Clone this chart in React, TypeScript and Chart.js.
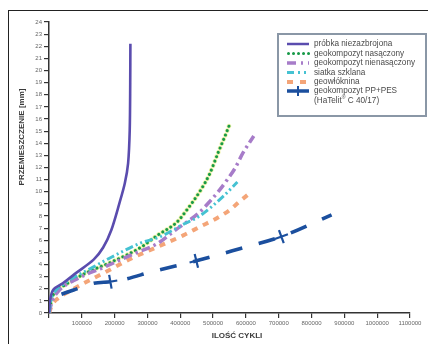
import { useEffect, useRef } from 'react';
import { Chart, registerables } from 'chart.js';
Chart.register(...registerables);

// ---- data ----
const probkaX = [0, 4000, 14000, 42000, 85000, 136000, 165000, 190000, 214000, 231000, 241000, 246000, 247500, 248000];
const probkaY = [0, 1.2, 1.95, 2.45, 3.35, 4.4, 5.4, 6.85, 9.0, 10.7, 12.35, 15.1, 19, 22.2];

const nasX = [0, 8000, 17000, 48000, 109000, 190000, 282000, 330000, 390000, 420000, 459000, 490000, 515000, 541000, 551000];
const nasY = [0, 1.1, 1.7, 2.3, 3.25, 4.2, 5.45, 6.4, 7.5, 8.5, 10.0, 11.5, 13.2, 14.9, 15.6];

const nienasX = [0, 10000, 27000, 88000, 170000, 251000, 332000, 383000, 454000, 490000, 520000, 546000, 566000, 591000, 624000];
const nienasY = [0, 1.0, 1.75, 2.85, 3.8, 4.8, 5.75, 6.8, 8.2, 9.2, 10.15, 11.1, 11.9, 13.2, 14.6];

const siatkaX = [0, 5000, 12000, 48000, 129000, 190000, 282000, 340000, 408000, 459000, 530000, 574000];
const siatkaY = [0, 0.9, 1.5, 2.45, 3.7, 4.6, 5.8, 6.3, 7.3, 8.0, 9.6, 10.8];

const geowX = [0, 10000, 27000, 60000, 106000, 167000, 251000, 322000, 409000, 459000, 510000, 551000, 581000, 617000];
const geowY = [0, 0.7, 1.2, 1.76, 2.45, 3.3, 4.5, 5.35, 6.4, 7.1, 7.8, 8.5, 9.2, 10.0];

const ppX = [38000, 75000, 136000, 187000, 218000, 320000, 449000, 581000, 708000, 861000];
const ppY = [1.55, 1.9, 2.45, 2.58, 2.7, 3.45, 4.3, 5.3, 6.3, 8.1];

const ppMarkX = [187000, 449000, 708000];
const ppMarkY = [2.58, 4.3, 6.3];

const legendLabels = [
  'próbka niezazbrojona',
  'geokompozyt nasączony',
  'geokompozyt nienasączony',
  'siatka szklana',
  'geowłóknina',
  'geokompozyt PP+PES',
];
const legendExtraA = '(HaTelit';
const legendExtraSup = '®';
const legendExtraB = ' C 40/17)';

const xAxisTitle = 'ILOŚĆ CYKLI';
const yAxisTitle = 'PRZEMIESZCZENIE [mm]';

const xMax = 1100000;
const xStep = 100000;
const yMax = 24;
const yStep = 1;

const pts = (xs: number[], ys: number[]) => xs.map((x, i) => ({ x, y: ys[i] }));

const FONT = '"Liberation Sans", Arial, sans-serif';

const C_PURPLE = '#5a4cae';
const C_GREEN = '#179a48';
const C_LAV = '#a77cc9';
const C_CYAN = '#45c2d2';
const C_ORANGE = '#f4a578';
const C_BLUE = '#1b4f9e';

const overlay = {
  id: 'overlay',
  afterDraw(chart: any) {
    const ctx = chart.ctx as CanvasRenderingContext2D;
    ctx.save();
    // axis titles
    ctx.fillStyle = '#3a3a3a';
    ctx.font = `bold 8px ${FONT}`;
    ctx.textAlign = 'center';
    ctx.textBaseline = 'middle';
    ctx.fillText(xAxisTitle, 237, 336);
    ctx.save();
    ctx.translate(22, 137);
    ctx.rotate(-Math.PI / 2);
    ctx.fillText(yAxisTitle, 0, 0);
    ctx.restore();

    // legend box
    const bx = 278, by = 34, bw = 148, bh = 82;
    ctx.fillStyle = '#ffffff';
    ctx.fillRect(bx, by, bw, bh);
    ctx.strokeStyle = '#8a97a6';
    ctx.lineWidth = 2;
    ctx.setLineDash([]);
    ctx.strokeRect(bx, by, bw, bh);

    const rows = [44, 53.5, 63, 72.5, 82, 91];
    const styles = [
      { c: C_PURPLE, w: 2.5, d: [] as number[], cap: 'butt' },
      { c: C_GREEN, w: 3, d: [0.01, 5], cap: 'round' },
      { c: C_LAV, w: 3.5, d: [9, 5, 2, 5], cap: 'butt' },
      { c: C_CYAN, w: 3, d: [7, 4, 2, 4, 2, 4], cap: 'butt' },
      { c: C_ORANGE, w: 4, d: [6, 7], cap: 'butt' },
      { c: C_BLUE, w: 3.5, d: [] as number[], cap: 'butt' },
    ];
    const sx0 = 287, sx1 = 309;
    styles.forEach((s, i) => {
      ctx.strokeStyle = s.c;
      ctx.lineWidth = s.w;
      ctx.setLineDash(s.d);
      ctx.lineCap = s.cap as CanvasLineCap;
      ctx.beginPath();
      ctx.moveTo(sx0 + (s.cap === 'round' ? 1.5 : 0), rows[i]);
      ctx.lineTo(sx1, rows[i]);
      ctx.stroke();
    });
    // cross on blue sample
    ctx.setLineDash([]);
    ctx.lineCap = 'butt';
    ctx.strokeStyle = C_BLUE;
    ctx.lineWidth = 2;
    ctx.beginPath();
    ctx.moveTo(298, rows[5] - 5);
    ctx.lineTo(298, rows[5] + 5);
    ctx.stroke();

    ctx.fillStyle = '#4a4a4a';
    ctx.font = `8.2px ${FONT}`;
    ctx.textAlign = 'left';
    ctx.textBaseline = 'middle';
    legendLabels.forEach((t, i) => ctx.fillText(t, 314, rows[i]));
    const ry = 100.5;
    ctx.fillText(legendExtraA, 314, ry);
    const wA = ctx.measureText(legendExtraA).width;
    ctx.font = `5px ${FONT}`;
    ctx.fillText(legendExtraSup, 314 + wA, ry - 3);
    const wS = ctx.measureText(legendExtraSup).width;
    ctx.font = `8.2px ${FONT}`;
    ctx.fillText(legendExtraB, 314 + wA + wS, ry);
    ctx.restore();
  },
};

export default function App() {
  const ref = useRef<HTMLCanvasElement | null>(null);
  useEffect(() => {
    if (!ref.current) return;
    const axisGrid = {
      drawOnChartArea: false,
      drawTicks: true,
      tickLength: 5,
      color: '#333',
      lineWidth: 1.2,
    };
    const chart = new Chart(ref.current, {
      type: 'line',
      data: {
        datasets: [
          {
            label: 'marks',
            data: pts(ppMarkX, ppMarkY),
            showLine: false,
            pointStyle: 'cross',
            pointRadius: 7,
            pointBorderWidth: 2.2,
            pointBorderColor: C_BLUE,
            pointBackgroundColor: C_BLUE,
            pointRotation: [-10, -14, -20],
            order: 0,
          } as any,
          {
            label: legendLabels[5],
            data: pts(ppX, ppY),
            borderColor: C_BLUE,
            borderWidth: 3.6,
            borderDash: [17, 17],
            pointRadius: 0,
            cubicInterpolationMode: 'monotone',
            order: 1,
          },
          {
            label: legendLabels[0],
            data: pts(probkaX, probkaY),
            borderColor: C_PURPLE,
            borderWidth: 2.6,
            pointRadius: 0,
            tension: 0.3,
            order: 2,
          },
          {
            label: legendLabels[3],
            data: pts(siatkaX, siatkaY),
            borderColor: C_CYAN,
            borderWidth: 3,
            borderDash: [8, 3, 2, 3, 2, 3],
            pointRadius: 0,
            cubicInterpolationMode: 'monotone',
            order: 3,
          },
          {
            label: legendLabels[2],
            data: pts(nienasX, nienasY),
            borderColor: C_LAV,
            borderWidth: 3.5,
            borderDash: [9, 4, 2.5, 4],
            pointRadius: 0,
            cubicInterpolationMode: 'monotone',
            order: 4,
          },
          {
            label: legendLabels[1],
            data: pts(nasX, nasY),
            borderColor: C_GREEN,
            borderWidth: 3,
            borderDash: [0.01, 4.7],
            borderCapStyle: 'round',
            pointRadius: 0,
            cubicInterpolationMode: 'monotone',
            order: 5,
          },
          {
            label: 'halo',
            data: pts(nasX, nasY),
            borderColor: 'rgba(232,236,130,0.7)',
            borderWidth: 4.6,
            borderDash: [0.01, 4.7],
            borderCapStyle: 'round',
            pointRadius: 0,
            cubicInterpolationMode: 'monotone',
            order: 6,
          },
          {
            label: legendLabels[4],
            data: pts(geowX, geowY),
            borderColor: C_ORANGE,
            borderWidth: 4,
            borderDash: [6, 6],
            pointRadius: 0,
            cubicInterpolationMode: 'monotone',
            order: 7,
          },
        ] as any,
      },
      options: {
        animation: false,
        responsive: true,
        maintainAspectRatio: false,
        layout: { padding: { top: 22, right: 18, left: 0, bottom: 0 } },
        plugins: { legend: { display: false }, tooltip: { enabled: false } },
        events: [],
        scales: {
          x: {
            type: 'linear',
            min: 0,
            max: xMax,
            border: { color: '#333', width: 1.5 },
            grid: axisGrid,
            ticks: {
              stepSize: xStep,
              autoSkip: false,
              maxRotation: 0,
              color: '#666',
              padding: 2,
              font: { size: 6, family: FONT },
              callback: (v: any) => (v === 0 ? '' : String(v)),
            },
            afterFit: (s: any) => {
              s.height = 31;
            },
          },
          y: {
            min: 0,
            max: yMax,
            border: { color: '#333', width: 1.5 },
            grid: axisGrid,
            ticks: {
              stepSize: yStep,
              autoSkip: false,
              color: '#666',
              padding: 2,
              font: { size: 6, family: FONT },
            },
            afterFit: (s: any) => {
              s.width = 49;
            },
          },
        },
      } as any,
      plugins: [overlay],
    });
    return () => chart.destroy();
  }, []);

  return (
    <div style={{ position: 'absolute', left: 0, top: 0, width: 428, height: 344, background: '#fff', overflow: 'hidden' }}>
      <div
        style={{
          position: 'absolute',
          left: 8,
          top: 10,
          width: 440,
          height: 360,
          borderLeft: '1.5px solid #222',
          borderTop: '1.5px solid #222',
        }}
      />
      <canvas ref={ref} style={{ position: 'absolute', left: 0, top: 0, width: 428, height: 344 }} />
    </div>
  );
}
